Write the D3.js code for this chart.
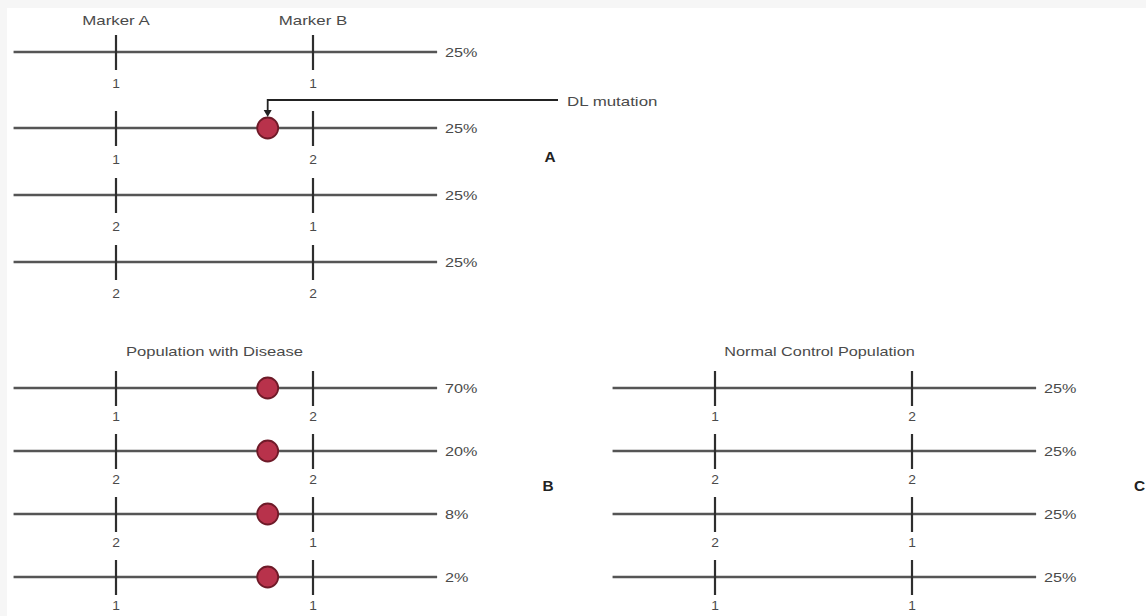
<!DOCTYPE html>
<html>
<head>
<meta charset="utf-8">
<script src="https://cdn.jsdelivr.net/npm/d3@7"></script>
<style>
  html, body { margin: 0; padding: 0; background: #f6f6f6; }
  svg { display: block; }
</style>
</head>
<body>
<svg id="chart" width="1146" height="616"></svg>
<script>
// ---------- data ----------
const markers = ["Marker A", "Marker B"];
const mutationPos = 0.77;          // relative position of DL mutation between markers (0 = A, 1 = B)

// Panel A: all haplotypes in general population
const panelAGenotypes = [["1", "1"], ["1", "2"], ["2", "1"], ["2", "2"]];
const panelAPercents = ["25%", "25%", "25%", "25%"];
const panelAMutation = [false, true, false, false];

// Panel B: population with disease
const panelBTitle = "Population with Disease";
const panelBGenotypes = [["1", "2"], ["2", "2"], ["2", "1"], ["1", "1"]];
const panelBPercents = ["70%", "20%", "8%", "2%"];
const panelBMutation = [true, true, true, true];

// Panel C: normal control population
const panelCTitle = "Normal Control Population";
const panelCGenotypes = [["1", "2"], ["2", "2"], ["2", "1"], ["1", "1"]];
const panelCPercents = ["25%", "25%", "25%", "25%"];
const panelCMutation = [false, false, false, false];

const panelLetters = ["A", "B", "C"];
const annotationText = "DL mutation";

// ---------- drawing ----------
const svg = d3.select("#chart");
svg.append("rect").attr("x", 7).attr("y", 8).attr("width", 1139).attr("height", 608).attr("fill", "#fff");

const FONT = "Liberation Sans, Arial, sans-serif";
const TEXT_COLOR = "#4a4a4a";
const SX = 1.3; // horizontal stretch of the reference's lettering

function stretchedText(g, x, y, str, opts = {}) {
  return g.append("text")
    .attr("transform", `translate(${x},${y}) scale(${opts.sx || SX},1)`)
    .attr("text-anchor", opts.anchor || "middle")
    .attr("dominant-baseline", "central")
    .attr("font-family", FONT)
    .attr("font-size", opts.size || 13)
    .attr("font-weight", opts.weight || "normal")
    .attr("fill", opts.color || TEXT_COLOR)
    .text(str);
}

// x: relative position along chromosome, 0 = Marker A, 1 = Marker B
const x = d3.scaleLinear().domain([0, 1]).range([116, 313]);
const lineExtent = [-0.52, 1.63];
const markerIdx = d3.scalePoint().domain(markers).range([0, 1]);

function drawPanel(g, y, genotypes, percents, mutation, labelOffset) {
  const rows = d3.range(genotypes.length);
  const rowG = g.selectAll("g.row").data(rows).join("g").attr("class", "row");

  // chromosome lines
  rowG.append("line")
    .attr("x1", x(lineExtent[0])).attr("x2", x(lineExtent[1]))
    .attr("y1", d => y(d)).attr("y2", d => y(d))
    .attr("stroke", "#555").attr("stroke-width", 2.4);

  // marker ticks
  markers.forEach(m => {
    rowG.append("line")
      .attr("x1", x(markerIdx(m))).attr("x2", x(markerIdx(m)))
      .attr("y1", d => y(d) - 17).attr("y2", d => y(d) + 18)
      .attr("stroke", "#2e2e2e").attr("stroke-width", 2.2);
  });

  // allele labels below each tick
  rows.forEach(r => {
    markers.forEach((m, mi) => {
      stretchedText(g, x(markerIdx(m)), y(r) + labelOffset, genotypes[r][mi], { size: 12, sx: 1.15 });
    });
    stretchedText(g, x(lineExtent[1]) + 8, y(r) + 1, percents[r], { anchor: "start", size: 12, sx: 1.35 });
  });

  // mutation circles
  rowG.filter(d => mutation[d]).append("circle")
    .attr("cx", x(mutationPos)).attr("cy", d => y(d)).attr("r", 10.5)
    .attr("fill", "#b8324b").attr("stroke", "#6e1a28").attr("stroke-width", 1.8);
}

// ---------- Panel A ----------
const gA = svg.append("g");
const yA = d3.scaleLinear().domain([0, 1, 3]).range([52, 128, 262]);
markers.forEach(m => stretchedText(gA, x(markerIdx(m)), 21, m, { size: 12.5, sx: 1.35 }));
drawPanel(gA, yA, panelAGenotypes, panelAPercents, panelAMutation, 32);

// DL mutation annotation
const mutRow = panelAMutation.indexOf(true);
const annY = yA(mutRow) - 28;
const annX2 = 558;
gA.append("path")
  .attr("d", `M${annX2},${annY} H${x(mutationPos)} V${yA(mutRow) - 16}`)
  .attr("fill", "none").attr("stroke", "#222").attr("stroke-width", 1.8);
gA.append("path")
  .attr("d", `M${x(mutationPos) - 4},${yA(mutRow) - 18} L${x(mutationPos) + 4},${yA(mutRow) - 18} L${x(mutationPos)},${yA(mutRow) - 11} Z`)
  .attr("fill", "#222");
stretchedText(gA, annX2 + 9, annY + 1, annotationText, { anchor: "start", size: 13, sx: 1.3 });
stretchedText(gA, 550, 157, panelLetters[0], { size: 14, weight: "bold", color: "#222", sx: 1.1 });

// ---------- Panels B & C ----------
const yBC = d3.scalePoint().domain(d3.range(4)).range([388, 577]);

const gB = svg.append("g");
stretchedText(gB, (x(0) + x(1)) / 2, 352, panelBTitle, { size: 12.5, sx: 1.33 });
drawPanel(gB, yBC, panelBGenotypes, panelBPercents, panelBMutation, 29);
stretchedText(gB, 548, 486, panelLetters[1], { size: 14, weight: "bold", color: "#222", sx: 1.1 });

const gC = svg.append("g").attr("transform", "translate(599,0)");
stretchedText(gC, (x(0) + x(1)) / 2 + 6, 352, panelCTitle, { size: 12.5, sx: 1.3 });
drawPanel(gC, yBC, panelCGenotypes, panelCPercents, panelCMutation, 29);
stretchedText(gC, 546, 486, panelLetters[2], { anchor: "end", size: 14, weight: "bold", color: "#222", sx: 1.1 });
</script>
</body>
</html>
